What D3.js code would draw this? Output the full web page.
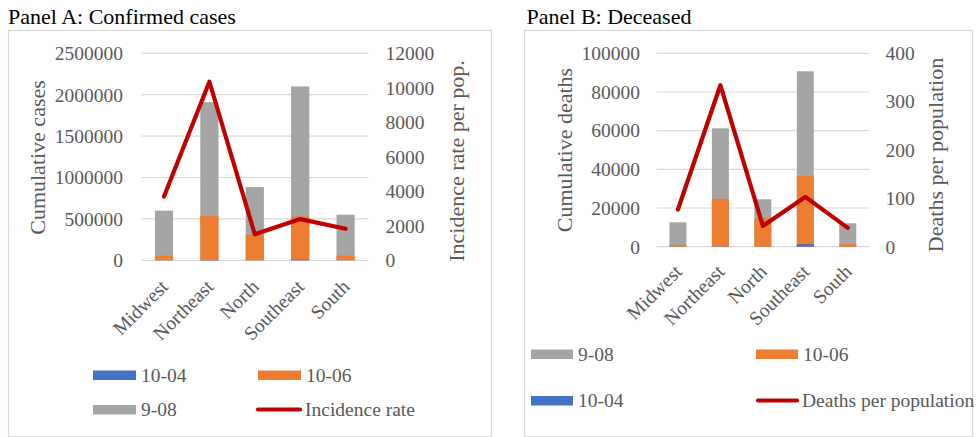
<!DOCTYPE html>
<html>
<head>
<meta charset="utf-8">
<script src="https://cdn.jsdelivr.net/npm/d3@7"></script>
<style>
  html, body { margin: 0; padding: 0; background: #fff; }
  svg { display: block; }
  svg text { font-family: 'Liberation Serif', 'Times New Roman', Times, 'DejaVu Serif', serif; }
</style>
</head>
<body>
<svg id="chart" width="976" height="437"></svg>
<script>
// Regions shared by both panels
const regions = ["Midwest", "Northeast", "North", "Southeast", "South"];

// Panel A: confirmed cases by snapshot date
const casesSep08 = [600000, 1910000, 885000, 2100000, 550000];
const casesJun10 = [56000, 535000, 310000, 530000, 56000];
const casesApr10 = [1500, 3000, 1500, 8000, 1200];
const incidenceRate = [3700, 10350, 1510, 2390, 1830];
const casesTicks = [0, 500000, 1000000, 1500000, 2000000, 2500000];
const incidenceTicks = [0, 2000, 4000, 6000, 8000, 10000, 12000];

// Panel B: deaths by snapshot date
const deathsSep08 = [12600, 61200, 24500, 90700, 12100];
const deathsJun10 = [1000, 24800, 14700, 36500, 1400];
const deathsApr10 = [60, 150, 50, 1300, 60];
const deathsPerPop = [77, 334, 43, 103, 39];
const deathsTicks = [0, 20000, 40000, 60000, 80000, 100000];
const deathsPerPopTicks = [0, 100, 200, 300, 400];

const COL = { gray: "#A5A5A5", orange: "#ED7D31", blue: "#4472C4", red: "#C00000",
              grid: "#D9D9D9", text: "#595959" };
const FONT = "'Liberation Serif', 'Times New Roman', Times, 'DejaVu Serif', serif";

const svg = d3.select("#chart");

function panel(cfg) {
  const g = svg.append("g").attr("font-family", FONT);

  // frame + title
  g.append("rect").attr("x", cfg.frame[0] + 0.5).attr("y", cfg.frame[1] + 0.5)
    .attr("width", cfg.frame[2]).attr("height", cfg.frame[3])
    .attr("fill", "none").attr("stroke", COL.grid).attr("stroke-width", 1.2);
  g.append("text").attr("x", cfg.titleX).attr("y", 23.5)
    .attr("font-size", 22).attr("fill", "#000").text(cfg.title);

  const x = d3.scaleBand().domain(regions).range([cfg.left, cfg.right]).paddingInner(0.6).paddingOuter(0.3);
  const yL = d3.scaleLinear().domain([0, d3.max(cfg.leftTicks)]).range([cfg.bottom, cfg.top]);
  const yR = d3.scaleLinear().domain([0, d3.max(cfg.rightTicks)]).range([cfg.bottom, cfg.top]);

  // gridlines
  g.append("g").selectAll("line").data(cfg.leftTicks).join("line")
    .attr("x1", cfg.left).attr("x2", cfg.right)
    .attr("y1", d => yL(d)).attr("y2", d => yL(d))
    .attr("stroke", COL.grid).attr("stroke-width", 1.2);

  // tick labels
  g.append("g").selectAll("text").data(cfg.leftTicks).join("text")
    .attr("x", cfg.leftLabelX).attr("y", d => yL(d)).attr("dy", "0.35em")
    .attr("text-anchor", "end").attr("font-size", 19.5).attr("fill", COL.text)
    .text(d => d);
  g.append("g").selectAll("text").data(cfg.rightTicks).join("text")
    .attr("x", cfg.rightLabelX).attr("y", d => yR(d)).attr("dy", "0.35em")
    .attr("text-anchor", "start").attr("font-size", 19.5).attr("fill", COL.text)
    .text(d => d);

  // axis titles
  g.append("text").attr("transform", `translate(${cfg.leftTitleX},${cfg.leftTitleY}) rotate(-90)`)
    .attr("text-anchor", "middle").attr("dy", "0.35em").attr("font-size", 22).attr("fill", COL.text)
    .text(cfg.leftTitle);
  g.append("text").attr("transform", `translate(${cfg.rightTitleX},${cfg.rightTitleY}) rotate(-90)`)
    .attr("text-anchor", "middle").attr("dy", "0.35em").attr("font-size", 22).attr("fill", COL.text)
    .text(cfg.rightTitle);

  // overlapped bars: latest (gray) behind, earlier dates in front
  const layers = [[cfg.sep, COL.gray], [cfg.jun, COL.orange], [cfg.apr, COL.blue]];
  layers.forEach(([vals, col]) => {
    g.append("g").selectAll("rect").data(vals).join("rect")
      .attr("x", (d, i) => x(regions[i])).attr("width", x.bandwidth())
      .attr("y", d => yL(d)).attr("height", d => yL(0) - yL(d))
      .attr("fill", col);
  });

  // rate line on secondary axis
  const line = d3.line().x((d, i) => x(regions[i]) + x.bandwidth() / 2).y(d => yR(d));
  g.append("path").datum(cfg.rate).attr("d", line)
    .attr("fill", "none").attr("stroke", COL.red).attr("stroke-width", 4.2)
    .attr("stroke-linejoin", "round").attr("stroke-linecap", "round");

  // category labels, rotated
  g.append("g").selectAll("text").data(regions).join("text")
    .attr("transform", d => `translate(${x(d) + x.bandwidth() / 2 - 4.5},${cfg.bottom + cfg.catOffset}) rotate(-45)`)
    .attr("text-anchor", "end").attr("dy", "0.7em").attr("font-size", 19.5).attr("fill", COL.text)
    .text(d => d);

  // legend
  cfg.legend.forEach(item => {
    if (item.type === "bar") {
      g.append("rect").attr("x", item.x).attr("y", item.y - 4.5).attr("width", item.w).attr("height", 9.5)
        .attr("fill", item.color);
    } else {
      g.append("line").attr("x1", item.x + 2).attr("x2", item.x + item.w - 2)
        .attr("y1", item.y).attr("y2", item.y)
        .attr("stroke", item.color).attr("stroke-width", 4.2).attr("stroke-linecap", "round");
    }
    g.append("text").attr("x", item.x + item.w + (item.type === "bar" ? 5 : 3)).attr("y", item.y).attr("dy", "0.35em")
      .attr("font-size", 19.5).attr("fill", COL.text).text(item.label);
  });
}

panel({
  frame: [8, 30, 483, 406],
  title: "Panel A: Confirmed cases", titleX: 8,
  left: 141.3, right: 368.3, top: 53.3, bottom: 260.3,
  leftTicks: casesTicks, rightTicks: incidenceTicks,
  leftLabelX: 123, rightLabelX: 385.5,
  leftTitle: "Cumulative cases", leftTitleX: 37, leftTitleY: 157.5,
  rightTitle: "Incidence rate per pop.", rightTitleX: 456.5, rightTitleY: 161,
  catOffset: 18,
  sep: casesSep08, jun: casesJun10, apr: casesApr10, rate: incidenceRate,
  legend: [
    { type: "bar", color: COL.blue, x: 93, y: 375, w: 43, label: "10-04" },
    { type: "bar", color: COL.orange, x: 258, y: 375, w: 43, label: "10-06" },
    { type: "bar", color: COL.gray, x: 93, y: 409.5, w: 43, label: "9-08" },
    { type: "line", color: COL.red, x: 256, y: 409.5, w: 46, label: "Incidence rate" }
  ]
});

panel({
  frame: [524, 30, 448, 406],
  title: "Panel B: Deceased", titleX: 526.5,
  left: 656.7, right: 869, top: 53.3, bottom: 246.7,
  leftTicks: deathsTicks, rightTicks: deathsPerPopTicks,
  leftLabelX: 640, rightLabelX: 885.5,
  leftTitle: "Cumulative deaths", leftTitleX: 564, leftTitleY: 150,
  rightTitle: "Deaths per population", rightTitleX: 935, rightTitleY: 155,
  catOffset: 16.5,
  sep: deathsSep08, jun: deathsJun10, apr: deathsApr10, rate: deathsPerPop,
  legend: [
    { type: "bar", color: COL.gray, x: 531, y: 354, w: 42, label: "9-08" },
    { type: "bar", color: COL.orange, x: 756, y: 354, w: 42, label: "10-06" },
    { type: "bar", color: COL.blue, x: 531, y: 400.5, w: 42, label: "10-04" },
    { type: "line", color: COL.red, x: 756, y: 400.5, w: 43, label: "Deaths per population" }
  ]
});
</script>
</body>
</html>
